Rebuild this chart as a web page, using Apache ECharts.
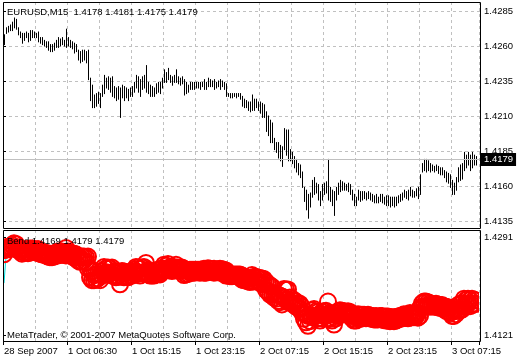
<!DOCTYPE html>
<html><head><meta charset="utf-8">
<script src="https://cdn.jsdelivr.net/npm/echarts@6/dist/echarts.min.js"></script>
<style>html,body{margin:0;padding:0;background:#fff}#c{width:520px;height:360px}</style>
</head><body><div id="c"></div>
<script>
// ---- data (EURUSD M15 bars) ----
const highs = [
1.4268,1.4273,1.4274,1.4275,1.4277,1.4280,1.4279,1.4273,1.4270,1.4269,
1.4269,1.4270,1.4269,1.4271,1.4271,1.4270,1.4269,1.4270,1.4266,1.4266,
1.4264,1.4263,1.4263,1.4261,1.4261,1.4262,1.4264,1.4266,1.4265,1.4266,
1.4264,1.4272,1.4266,1.4264,1.4263,1.4262,1.4261,1.4257,1.4256,1.4257,
1.4257,1.4256,1.4257,1.4237,1.4232,1.4225,1.4226,1.4227,1.4226,1.4232,
1.4239,1.4237,1.4238,1.4237,1.4238,1.4231,1.4230,1.4231,1.4230,1.4232,
1.4231,1.4230,1.4229,1.4230,1.4231,1.4234,1.4239,1.4238,1.4236,1.4238,
1.4239,1.4246,1.4234,1.4232,1.4231,1.4230,1.4233,1.4234,1.4234,1.4237,
1.4243,1.4241,1.4244,1.4239,1.4238,1.4239,1.4243,1.4238,1.4237,1.4238,
1.4236,1.4234,1.4232,1.4234,1.4234,1.4234,1.4234,1.4234,1.4234,1.4234,
1.4236,1.4234,1.4237,1.4236,1.4235,1.4236,1.4234,1.4235,1.4236,1.4235,
1.4234,1.4233,1.4226,1.4226,1.4226,1.4226,1.4226,1.4226,1.4226,1.4224,
1.4222,1.4221,1.4220,1.4220,1.4225,1.4222,1.4222,1.4220,1.4220,1.4219,
1.4218,1.4213,1.4210,1.4207,1.4205,1.4194,1.4191,1.4191,1.4189,1.4188,
1.4201,1.4200,1.4200,1.4186,1.4184,1.4181,1.4179,1.4176,1.4175,1.4170,
1.4159,1.4157,1.4154,1.4155,1.4164,1.4166,1.4162,1.4161,1.4156,1.4161,
1.4162,1.4163,1.4179,1.4159,1.4157,1.4156,1.4159,1.4162,1.4164,1.4163,
1.4162,1.4161,1.4162,1.4161,1.4157,1.4154,1.4152,1.4157,1.4156,1.4156,
1.4156,1.4155,1.4156,1.4155,1.4154,1.4153,1.4154,1.4152,1.4154,1.4154,
1.4152,1.4153,1.4153,1.4152,1.4152,1.4152,1.4152,1.4153,1.4154,1.4155,
1.4157,1.4156,1.4157,1.4159,1.4157,1.4156,1.4158,1.4159,1.4168,1.4176,
1.4179,1.4179,1.4178,1.4176,1.4175,1.4174,1.4175,1.4174,1.4173,1.4173,
1.4171,1.4170,1.4169,1.4168,1.4164,1.4162,1.4166,1.4173,1.4175,1.4176,
1.4184,1.4182,1.4184,1.4182,1.4184,1.4182,1.4181
];
const lows = [
1.4261,1.4269,1.4270,1.4271,1.4271,1.4273,1.4272,1.4268,1.4266,1.4262,
1.4264,1.4266,1.4263,1.4264,1.4266,1.4266,1.4266,1.4263,1.4262,1.4261,
1.4260,1.4259,1.4257,1.4256,1.4256,1.4257,1.4259,1.4259,1.4260,1.4261,
1.4260,1.4259,1.4260,1.4259,1.4258,1.4255,1.4256,1.4250,1.4248,1.4249,
1.4250,1.4248,1.4236,1.4221,1.4216,1.4216,1.4217,1.4219,1.4216,1.4224,
1.4226,1.4230,1.4229,1.4227,1.4224,1.4223,1.4221,1.4222,1.4209,1.4223,
1.4221,1.4223,1.4221,1.4224,1.4224,1.4227,1.4230,1.4227,1.4224,1.4229,
1.4230,1.4227,1.4226,1.4224,1.4224,1.4224,1.4226,1.4227,1.4226,1.4230,
1.4234,1.4234,1.4236,1.4234,1.4232,1.4234,1.4234,1.4233,1.4232,1.4233,
1.4225,1.4226,1.4227,1.4229,1.4229,1.4229,1.4230,1.4230,1.4229,1.4231,
1.4229,1.4229,1.4231,1.4231,1.4231,1.4229,1.4230,1.4231,1.4229,1.4231,
1.4229,1.4224,1.4224,1.4223,1.4223,1.4224,1.4223,1.4224,1.4222,1.4217,
1.4216,1.4216,1.4214,1.4213,1.4214,1.4214,1.4216,1.4214,1.4212,1.4209,
1.4209,1.4199,1.4196,1.4191,1.4191,1.4186,1.4184,1.4180,1.4178,1.4174,
1.4186,1.4182,1.4178,1.4178,1.4176,1.4173,1.4170,1.4168,1.4166,1.4159,
1.4149,1.4143,1.4137,1.4145,1.4152,1.4154,1.4155,1.4150,1.4146,1.4150,
1.4154,1.4155,1.4150,1.4149,1.4146,1.4139,1.4150,1.4154,1.4156,1.4157,
1.4157,1.4157,1.4156,1.4154,1.4150,1.4146,1.4146,1.4150,1.4149,1.4150,
1.4151,1.4150,1.4151,1.4150,1.4149,1.4148,1.4148,1.4148,1.4149,1.4148,
1.4147,1.4146,1.4146,1.4145,1.4146,1.4145,1.4146,1.4148,1.4149,1.4150,
1.4152,1.4151,1.4150,1.4153,1.4152,1.4152,1.4153,1.4151,1.4154,1.4170,
1.4171,1.4170,1.4171,1.4170,1.4171,1.4170,1.4171,1.4169,1.4168,1.4168,
1.4166,1.4163,1.4162,1.4159,1.4154,1.4154,1.4157,1.4163,1.4164,1.4165,
1.4171,1.4173,1.4175,1.4171,1.4173,1.4175,1.4175
];
// visible start of the indicator's cyan line (rest is hidden under the circles)
const bendLineStart = [1.4211, 1.4257];

const symbolName = 'EURUSD,M15';
const lastQuote = ['1.4178', '1.4181', '1.4175', '1.4179'];   // O H L C of last bar
const lastClose = 1.4179;
const bendName = 'Bend';
const bendValues = ['1.4169', '1.4179', '1.4179'];
const priceTicks = ['1.4135', '1.4160', '1.4185', '1.4210', '1.4235', '1.4260', '1.4285'];
const indTicks = ['1.4121', '1.4291'];
const timeLabels = ['28 Sep 2007', '1 Oct 06:30', '1 Oct 15:15', '1 Oct 23:15',
                    '2 Oct 07:15', '2 Oct 15:15', '2 Oct 23:15', '3 Oct 07:15'];
const copyright = 'MetaTrader, \u00A9 2001-2007 MetaQuotes Software Corp.';

// one extra empty slot on the right (chart shift)
const categories = Array.from({length: highs.length + 1}, (_, i) => String(i));

// ---- layout ----
const FONT = '"Liberation Sans", Arial, sans-serif';
const FS = 9.5;
const L = 3, WB = 476, WF = 477;
const gLine = () => ({color: '#c0c0c0', type: 3, width: 1});
const dashV = () => ({show: true, interval: 15, lineStyle: gLine()});

const chart = echarts.init(document.getElementById('c'), null, {renderer: 'canvas'});
const catAxis = (g, extra) => Object.assign({
  type: 'category', gridIndex: g, data: categories, boundaryGap: true,
  axisLine: {show: false}, axisTick: {show: false}, axisLabel: {show: false}, splitLine: {show: false}
}, extra || {});
const noAxis = {axisLine: {show: false}, axisTick: {show: false}, axisLabel: {show: false}, splitLine: {show: false}};

chart.setOption({
  animation: false,
  backgroundColor: '#fff',
  textStyle: {fontFamily: FONT},
  grid: [
    {left: L, width: WB, top: 2, height: 226},    // 0 main frame (bars)
    {left: L, width: WF, top: 11, height: 210},   // 1 main price labels
    {left: L, width: WB, top: 230, height: 111},  // 2 indicator frame (circles)
    {left: L, width: WF, top: 237, height: 98}    // 3 indicator labels
  ],
  xAxis: [
    catAxis(0, {splitLine: dashV()}),
    Object.assign({type: 'value', gridIndex: 1, min: 0, max: 1}, noAxis),
    catAxis(2, {
      splitLine: dashV(),
      axisTick: {show: true, interval: 31, length: 4, lineStyle: {color: '#000'}},
      axisLabel: {show: true, interval: 31, align: 'left', margin: 5, color: '#000',
        fontSize: FS, fontFamily: FONT,
        formatter: (v, idx) => timeLabels[Math.round(idx / 32)] || ''}
    }),
    Object.assign({type: 'value', gridIndex: 3, min: 0, max: 1}, noAxis)
  ],
  yAxis: [
    Object.assign({type: 'value', gridIndex: 0, min: 1.4130, max: 1.4130 + 226 / 14000}, noAxis),
    {type: 'category', gridIndex: 1, data: priceTicks, boundaryGap: false, position: 'right',
      axisLine: {show: false},
      axisTick: {show: true, length: 3, lineStyle: {color: '#000'}},
      axisLabel: {show: true, margin: 4, color: '#000', fontSize: FS, fontFamily: FONT},
      splitLine: {show: true, interval: 0, lineStyle: gLine()}},
    Object.assign({type: 'value', gridIndex: 2, min: 1.4121 - 6 * 0.017 / 98, max: 1.4291 + 7 * 0.017 / 98}, noAxis),
    {type: 'category', gridIndex: 3, data: indTicks, boundaryGap: false, position: 'right',
      axisLine: {show: false},
      axisTick: {show: true, length: 3, lineStyle: {color: '#000'}},
      axisLabel: {show: true, margin: 4, color: '#000', fontSize: FS, fontFamily: FONT},
      splitLine: {show: false}}
  ],
  series: [
    { // price bars (high-low) + last price line
      type: 'custom', xAxisIndex: 0, yAxisIndex: 0, silent: true, z: 3,
      data: highs.map((h, i) => [i, h, lows[i]]),
      encode: {x: 0, y: [1, 2]},
      renderItem: (p, api) => {
        const a = api.coord([api.value(0), api.value(1)]);
        const b = api.coord([api.value(0), api.value(2)]);
        const x = Math.round(a[0]) + 0.5;
        return {type: 'line', shape: {x1: x, y1: a[1] - 0.5, x2: x, y2: b[1] + 0.5},
          style: {stroke: '#000', lineWidth: 1}};
      },
      markLine: {
        silent: true, symbol: 'none', animation: false, precision: 4,
        lineStyle: {color: '#c0c0c0', type: 'solid', width: 1},
        label: {show: true, position: 'end', distance: 2, formatter: lastQuote[3],
          color: '#fff', backgroundColor: '#000', padding: [2, 3, 1, 3],
          fontSize: FS, fontFamily: FONT},
        data: [{yAxis: lastClose}]
      }
    },
    { // indicator line (visible start only)
      type: 'line', xAxisIndex: 2, yAxisIndex: 2, silent: true, z: 2, symbol: 'none',
      data: bendLineStart.map((v, i) => [i, v]),
      lineStyle: {color: '#00e0e0', width: 1}
    },
    { // indicator circles
      type: 'custom', xAxisIndex: 2, yAxisIndex: 2, silent: true, clip: true, z: 3,
      data: highs.map((h, i) => [i, h, lows[i]]),
      encode: {x: 0, y: [1, 2]},
      renderItem: (p, api) => {
        const a = api.coord([api.value(0), api.value(1)]);
        const b = api.coord([api.value(0), api.value(2)]);
        const st = {fill: 'none', stroke: '#ff0000', lineWidth: 2};
        return {type: 'group', children: [
          {type: 'circle', shape: {cx: a[0], cy: a[1], r: 8}, style: st},
          {type: 'circle', shape: {cx: b[0], cy: b[1], r: 8}, style: st}
        ]};
      }
    }
  ],
  graphic: [
    {type: 'rect', z: 50, silent: true, shape: {x: 3.5, y: 2.5, width: 477, height: 226},
      style: {fill: 'none', stroke: '#000', lineWidth: 1}},
    {type: 'rect', z: 50, silent: true, shape: {x: 3.5, y: 230.5, width: 477, height: 111},
      style: {fill: 'none', stroke: '#000', lineWidth: 1}},
    {type: 'text', z: 60, silent: true, x: 7, y: 12,
      style: {text: symbolName + '  ' + lastQuote.join(' '), fill: '#000',
        font: FS + 'px ' + FONT, verticalAlign: 'middle'}},
    {type: 'text', z: 60, silent: true, x: 7, y: 241,
      style: {text: bendName + ' ' + bendValues.join(' '), fill: '#000',
        font: FS + 'px ' + FONT, verticalAlign: 'middle'}},
    {type: 'text', z: 60, silent: true, x: 7, y: 335,
      style: {text: copyright, fill: '#000', font: FS + 'px ' + FONT, verticalAlign: 'middle'}}
  ]
});
</script>
</body></html>
